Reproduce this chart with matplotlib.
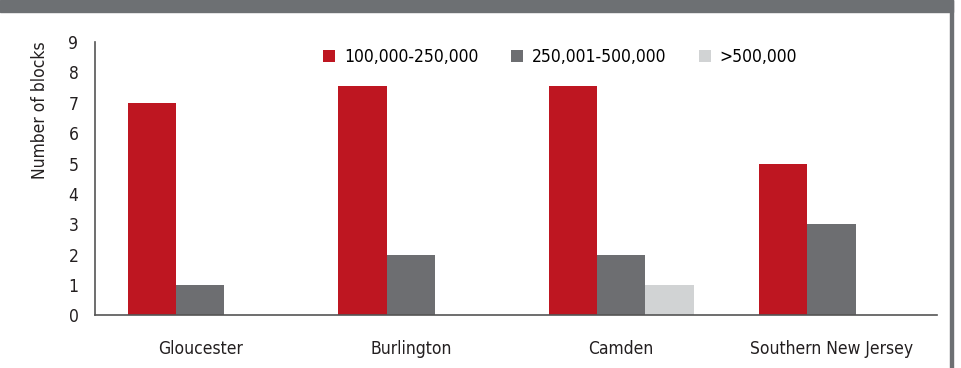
import matplotlib.pyplot as plt
from matplotlib.patches import Rectangle
import numpy as np

plt.rcParams['font.family'] = ['DejaVu Sans']
plt.rcParams['font.stretch'] = 'condensed'

counties = ['Gloucester', 'Burlington', 'Camden', 'Southern New Jersey']
sizes = ['100,000-250,000', '250,001-500,000', '>500,000']
small_blocks = [7, 7.55, 7.55, 5]
mid_blocks = [1, 2, 2, 3]
large_blocks = [0, 0, 1, 0]
colors = ['#be1621', '#6d6e71', '#d1d3d4']

fig = plt.figure(figsize=(9.61, 3.68), dpi=100)
ax = fig.add_axes([0.0989, 0.1427, 0.876, 0.743])

x = np.arange(len(counties))
w = 0.23
for i, (vals, c, lab) in enumerate(zip([small_blocks, mid_blocks, large_blocks], colors, sizes)):
    ax.bar(x + (i - 1) * w, vals, w, color=c, label=lab, zorder=2)

ax.set_xlim(-0.5, 3.5)
ax.set_ylim(0, 9)
ax.set_yticks(range(10))
ax.set_xticks(x)
ax.set_xticklabels(counties)
ax.tick_params(axis='both', length=0, labelsize=12.5, colors='#231f20')
ax.tick_params(axis='y', pad=12)
ax.tick_params(axis='x', pad=18)

for s in ['top', 'right']:
    ax.spines[s].set_visible(False)
for s in ['left', 'bottom']:
    ax.spines[s].set_color('#555555')
    ax.spines[s].set_linewidth(1.2)

leg = ax.legend(loc='upper left', bbox_to_anchor=(0.2525, 1.035), ncol=3, frameon=False,
                fontsize=12.5, handlelength=0.7, handleheight=0.7, handletextpad=0.5,
                columnspacing=1.87)

fig.text(40 / 961, 1 - 110 / 368, 'Number of blocks', rotation=90, va='center', ha='center',
         fontsize=12.5, color='#231f20')

# header band and right border
fig.patches.append(Rectangle((0, 1 - 12 / 368), 953 / 961, 12 / 368, transform=fig.transFigure,
                             color='#6d7073', zorder=0))
fig.patches.append(Rectangle((950 / 961, 0), 2.5 / 961, 1, transform=fig.transFigure,
                             color='#6d7073', zorder=0))

fig.savefig('out.png', dpi=100)
